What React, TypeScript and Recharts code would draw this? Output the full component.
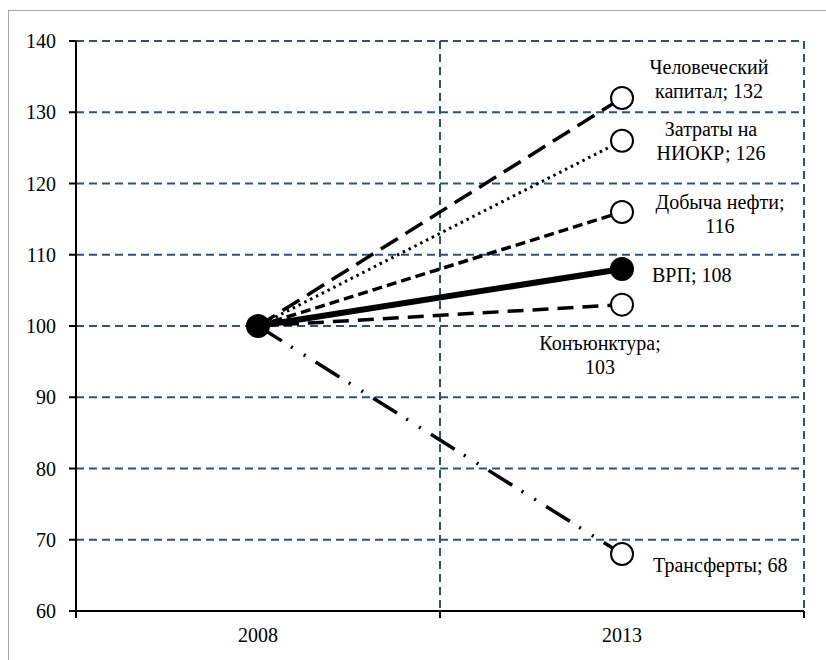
import React from 'react';
import { LineChart, Line, XAxis, YAxis, CartesianGrid, LabelList } from 'recharts';

const years = ['2008', '2013'];
const humanCapital = [100, 132];
const rndCosts = [100, 126];
const oilOutput = [100, 116];
const grp = [100, 108];
const conjuncture = [100, 103];
const transfers = [100, 68];
const yTicks = [60, 70, 80, 90, 100, 110, 120, 130, 140];
// integer ticks = band edges (tick marks), half ticks = year labels
const xTicks = [0, 0.5, 1, 1.5, 2];

const FONT = 'Liberation Serif, Times New Roman, serif';
const FS = 20;
const GRID = '#2b5286';

const data = years.map((year, i) => ({
    x: i + 0.5,
    year,
    humanCapital: humanCapital[i],
    rndCosts: rndCosts[i],
    oilOutput: oilOutput[i],
    grp: grp[i],
    conjuncture: conjuncture[i],
    transfers: transfers[i],
}));

interface SeriesCfg {
    key: string;
    name: string;
    width: number;
    dash?: string;
    filled?: boolean;
    breakAfter: number;
    anchor: 'start' | 'middle';
    dx: number;
    dy: number;
}

// drawn in this order, ВРП last so its marker sits on top
const series: SeriesCfg[] = [
    { key: 'transfers', name: 'Трансферты', width: 3.5, dash: '28 11 2 13 2 12', breakAfter: 0, anchor: 'start', dx: 31, dy: 18 },
    { key: 'conjuncture', name: 'Конъюнктура', width: 3.5, dash: '16 9', breakAfter: 1, anchor: 'middle', dx: -22, dy: 45 },
    { key: 'oilOutput', name: 'Добыча нефти', width: 3.5, dash: '10 5', breakAfter: 2, anchor: 'middle', dx: 98, dy: -3 },
    { key: 'rndCosts', name: 'Затраты на НИОКР', width: 3, dash: '2.5 4', breakAfter: 2, anchor: 'middle', dx: 89, dy: -5 },
    { key: 'humanCapital', name: 'Человеческий капитал', width: 3.5, dash: '20 9', breakAfter: 1, anchor: 'middle', dx: 87, dy: -24 },
    { key: 'grp', name: 'ВРП', width: 6, filled: true, breakAfter: 0, anchor: 'start', dx: 30, dy: 13 },
];

const XTick = (props: any) => {
    const { x, y, payload } = props;
    const v = payload.value;
    if (Number.isInteger(v)) {
        return <line x1={x} y1={y} x2={x} y2={y + 7} stroke="#000" strokeWidth={2} />;
    }
    return (
        <text x={x} y={y + 31} textAnchor="middle" style={{ fontFamily: FONT, fontSize: FS }} fill="#000">
            {years[Math.floor(v)]}
        </text>
    );
};

const makeDot = (s: SeriesCfg) => (props: any) => {
    const { cx, cy, index } = props;
    if (index === 0 && !s.filled) return <g key={`${s.key}-d${index}`} />;
    return (
        <circle
            key={`${s.key}-d${index}`}
            cx={cx}
            cy={cy}
            r={11}
            fill={s.filled ? '#000' : '#fff'}
            stroke="#000"
            strokeWidth={2}
        />
    );
};

const makeLabel = (s: SeriesCfg) => (props: any) => {
    const { x, y, value, index } = props;
    if (index !== data.length - 1) return null;
    const tokens = `${s.name}; ${value}`.split(' ');
    const lines = s.breakAfter > 0
        ? [tokens.slice(0, s.breakAfter).join(' '), tokens.slice(s.breakAfter).join(' ')]
        : [tokens.join(' ')];
    return (
        <text x={x + s.dx} y={y + s.dy} textAnchor={s.anchor} style={{ fontFamily: FONT, fontSize: FS }} fill="#000">
            {lines.map((l, i) => (
                <tspan key={i} x={x + s.dx} dy={i === 0 ? 0 : 24}>{l}</tspan>
            ))}
        </text>
    );
};

export default function App() {
    return (
        <div style={{ position: 'fixed', left: 0, top: 0, width: 826, height: 660, overflow: 'hidden', background: '#fff', fontFamily: FONT }}>
            <div style={{ position: 'absolute', left: 8, top: 10, width: 840, height: 700, borderLeft: '1.5px solid #a6a6a6', borderTop: '1.5px solid #a6a6a6' }} />
            <div style={{ position: 'absolute', left: 0, top: 0 }}>
                <LineChart width={826} height={660} data={data} margin={{ top: 41, right: 22, left: 0, bottom: 0 }}>
                    <CartesianGrid
                        stroke={GRID}
                        strokeWidth={2}
                        strokeDasharray="8 5"
                        verticalCoordinatesGenerator={({ offset }: any) => [offset.left + offset.width / 2, offset.left + offset.width]}
                    />
                    <XAxis
                        dataKey="x"
                        type="number"
                        domain={[0, 2]}
                        ticks={xTicks}
                        interval={0}
                        height={49}
                        tick={<XTick />}
                        tickLine={false}
                        tickSize={0}
                        tickMargin={0}
                        axisLine={{ stroke: '#000', strokeWidth: 2 }}
                    />
                    <YAxis
                        type="number"
                        domain={[60, 140]}
                        ticks={yTicks}
                        interval={0}
                        width={76}
                        tickSize={7}
                        tickMargin={13}
                        tickLine={{ stroke: '#000', strokeWidth: 2 }}
                        axisLine={{ stroke: '#000', strokeWidth: 2 }}
                        tick={{ fill: '#000', fontSize: FS, style: { fontFamily: FONT } }}
                    />
                    {series.map((s) => (
                        <Line
                            key={s.key}
                            dataKey={s.key}
                            stroke="#000"
                            strokeWidth={s.width}
                            strokeDasharray={s.dash}
                            dot={makeDot(s)}
                            activeDot={false}
                            isAnimationActive={false}
                        >
                            <LabelList dataKey={s.key} content={makeLabel(s)} />
                        </Line>
                    ))}
                </LineChart>
            </div>
        </div>
    );
}
